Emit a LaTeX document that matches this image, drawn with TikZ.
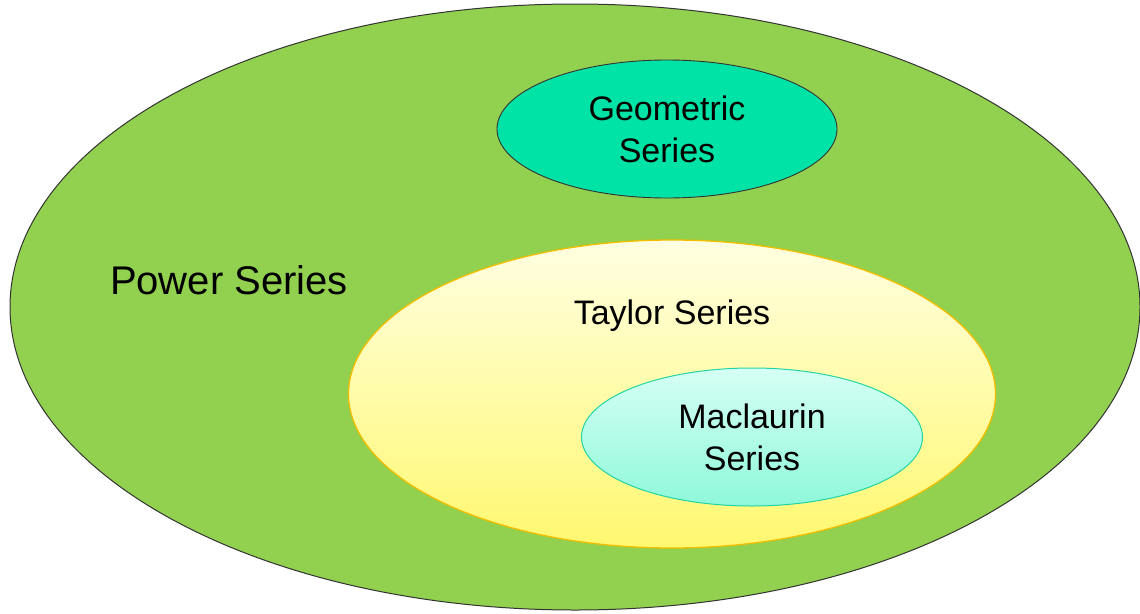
\documentclass[tikz,border=0pt]{standalone}
\usepackage{fontspec}
\setmainfont{Liberation Sans}
\usetikzlibrary{shapes.geometric,positioning}

\definecolor{powergreen}{HTML}{92D050}
\definecolor{geomfill}{HTML}{00E3A6}
\definecolor{taylortop}{HTML}{FFFFE2}
\definecolor{taylorbot}{HTML}{FFF870}
\definecolor{taylorline}{HTML}{F2BE00}
\definecolor{mactop}{HTML}{D6FFF4}
\definecolor{macbot}{HTML}{8EF8DA}
\definecolor{macline}{HTML}{22D4A4}

\begin{document}
\begin{tikzpicture}[
    x=1pt, y=-1pt,
    set/.style={draw, ellipse, inner sep=0pt, align=center, font=\fontsize{34}{42}\selectfont},
    settext/.style={inner sep=0pt, font=\fontsize{34}{42}\selectfont},
]
\useasboundingbox (0,0) rectangle (1140,613);

\node[set, fill=powergreen, draw=black!80, line width=1pt, minimum width=1130pt, minimum height=606pt] (power) at (575,307) {};
\node[settext, font=\fontsize{40}{48}\selectfont] (powerlabel) at (229,280) {Power Series};

\node[set, fill=geomfill, draw=black!80, line width=0.9pt, minimum width=340pt, minimum height=138pt] (geometric) at (667,129) {Geometric\\Series};

\node[set, top color=taylortop, bottom color=taylorbot, draw=taylorline, line width=1.3pt, minimum width=647pt, minimum height=308pt] (taylor) at (672,394) {};
\node[settext, below=60pt of taylor.north] (taylorlabel) {Taylor Series};

\node[set, top color=mactop, bottom color=macbot, draw=macline, line width=1pt, minimum width=341pt, minimum height=138pt] (maclaurin) at (752,437) {Maclaurin\\Series};
\end{tikzpicture}
\end{document}
